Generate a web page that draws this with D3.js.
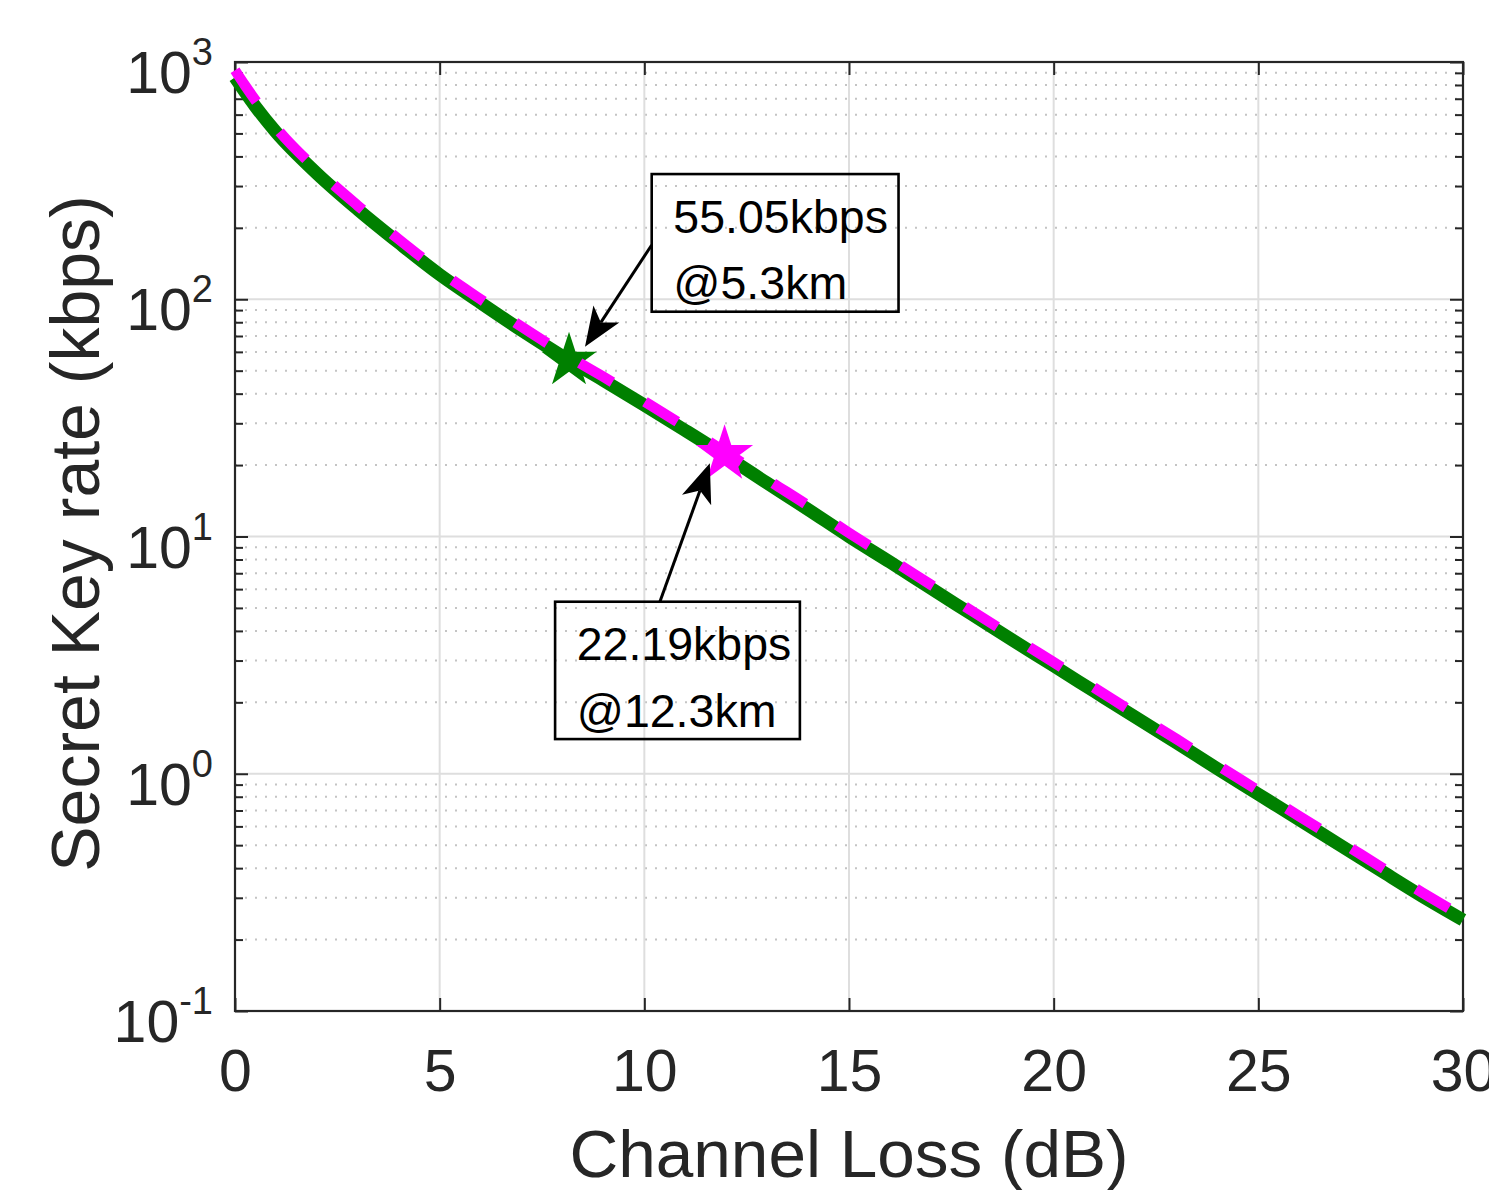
<!DOCTYPE html>
<html>
<head>
<meta charset="utf-8">
<script src="https://cdn.jsdelivr.net/npm/d3@7"></script>
<style>
  html, body { margin: 0; padding: 0; background: #ffffff; }
  svg { display: block; }
  text { font-family: "Liberation Sans", Arial, Helvetica, sans-serif; }
</style>
</head>
<body>
<svg id="chart" width="1489" height="1190"></svg>
<script>
// ---------------- DATA ----------------
const lossDB = [0, 0.25, 0.5, 1, 2, 3, 4, 5, 6, 7, 8, 9, 10, 11, 12, 13, 14, 15,
                16, 17, 18, 19, 20, 21, 22, 23, 24, 25, 26, 27, 28, 29, 30];
const rateGreen = [861, 745, 649, 507, 339, 239, 173, 127, 96.6, 74, 57.5, 45.5, 35.8, 28.0, 21.8, 16.8,
                   13.0, 10.0, 7.8, 6.05, 4.7, 3.65, 2.85, 2.22, 1.73, 1.35, 1.05, 0.82, 0.64, 0.50,
                   0.39, 0.305, 0.242];
const rateMagenta = [923, 794, 689, 530, 352, 248, 179, 131.5, 100, 76.6, 59.5, 47.1, 37.1, 29.0, 22.6, 17.4,
                     13.5, 10.35, 8.07, 6.26, 4.86, 3.78, 2.95, 2.30, 1.79, 1.40, 1.087, 0.849, 0.662, 0.518,
                     0.404, 0.316, 0.250];
const markerLoss = [8.16, 11.96];
const markerRate = [55.05, 22.19];
const xTicks = [0, 5, 10, 15, 20, 25, 30];
const yTicks = [0.1, 1, 10, 100, 1000];
const yTickExp = ["-1", "0", "1", "2", "3"];
const annText = [["55.05kbps", "@5.3km"], ["22.19kbps", "@12.3km"]];
// annotation boxes & arrows in data coordinates
const annBoxX0 = [10.18, 7.82];
const annBoxY0 = [337, 5.31];
const annBoxX1 = [16.21, 13.80];
const annBoxY1 = [88.6, 1.40];
const annTailX = [10.18, 10.38];
const annTailY = [169.3, 5.31];
const annTipX  = [8.55, 11.60];
const annTipY  = [63.1, 20.35];

// ---------------- SETUP ----------------
const svg = d3.select("#chart");
svg.append("rect").attr("width", 1489).attr("height", 1190).attr("fill", "#fff");

const L = 235, R = 1463, T = 62, B = 1011;
const x = d3.scaleLinear().domain([0, 30]).range([L, R]);
const y = d3.scaleLog().domain([0.1, 1000]).range([B, T]);

const axisColor = "#262626";

const yMinor = [];
[0.1, 1, 10, 100].forEach(d => { for (let k = 2; k <= 9; k++) yMinor.push(d * k); });

// ---------------- GRID ----------------
const grid = svg.append("g");
grid.selectAll("line.ymin").data(yMinor).enter().append("line")
  .attr("x1", L).attr("x2", R).attr("y1", d => y(d)).attr("y2", d => y(d))
  .attr("stroke", "#c4c4c4").attr("stroke-width", 2).attr("stroke-dasharray", "2,8");
grid.selectAll("line.ymaj").data(yTicks.slice(1, -1)).enter().append("line")
  .attr("x1", L).attr("x2", R).attr("y1", d => y(d)).attr("y2", d => y(d))
  .attr("stroke", "#dedede").attr("stroke-width", 2);
grid.selectAll("line.xmaj").data(xTicks.slice(1, -1)).enter().append("line")
  .attr("y1", T).attr("y2", B).attr("x1", d => x(d)).attr("x2", d => x(d))
  .attr("stroke", "#dedede").attr("stroke-width", 2);

// ---------------- AXES ----------------
const gx = svg.append("g").attr("transform", `translate(0,${B})`)
  .call(d3.axisBottom(x).tickValues(xTicks).tickSize(-13).tickPadding(22).tickFormat(d3.format("d")));
const gxTop = svg.append("g").attr("transform", `translate(0,${T})`)
  .call(d3.axisTop(x).tickValues(xTicks).tickSize(-13).tickFormat(""));
const gy = svg.append("g").attr("transform", `translate(${L},0)`)
  .call(d3.axisLeft(y).tickValues(yTicks).tickSize(-13).tickFormat(""));
const gyMin = svg.append("g").attr("transform", `translate(${L},0)`)
  .call(d3.axisLeft(y).tickValues(yMinor).tickSize(-8).tickFormat(""));
const gyR = svg.append("g").attr("transform", `translate(${R},0)`)
  .call(d3.axisRight(y).tickValues(yTicks).tickSize(-13).tickFormat(""));
const gyRMin = svg.append("g").attr("transform", `translate(${R},0)`)
  .call(d3.axisRight(y).tickValues(yMinor).tickSize(-8).tickFormat(""));

[gx, gxTop, gy, gyMin, gyR, gyRMin].forEach(g => {
  g.select(".domain").remove();
  g.selectAll(".tick line").attr("stroke", axisColor).attr("stroke-width", 2);
});
gx.selectAll(".tick text").attr("font-size", 59).attr("fill", axisColor)
  .attr("font-family", "Liberation Sans, Arial, sans-serif")
  .attr("dy", null).attr("y", 80);

// box
svg.append("rect").attr("x", L).attr("y", T).attr("width", R - L).attr("height", B - T)
  .attr("fill", "none").attr("stroke", axisColor).attr("stroke-width", 2.2);

// y tick labels with superscripts
const yl = svg.append("g");
yTicks.forEach((v, i) => {
  const t = yl.append("text").attr("x", 213).attr("y", y(v) + 31)
    .attr("text-anchor", "end").attr("fill", axisColor).attr("font-size", 59);
  t.append("tspan").text("10");
  t.append("tspan").attr("dy", -28).attr("font-size", 38).text(yTickExp[i]);
});

// axis labels
svg.append("text").attr("x", (L + R) / 2).attr("y", 1177).attr("text-anchor", "middle")
  .attr("font-size", 67.5).attr("fill", axisColor).text("Channel Loss (dB)");
svg.append("text").attr("transform", `translate(99,${(T + B) / 2 - 3}) rotate(-90)`)
  .attr("text-anchor", "middle").attr("font-size", 68).attr("fill", axisColor)
  .text("Secret Key rate (kbps)");

// ---------------- CURVES ----------------
const line = d3.line().x(d => x(d[0])).y(d => y(d[1])).curve(d3.curveMonotoneX);
const greenPts = lossDB.map((d, i) => [d, rateGreen[i]]);
const magPts = lossDB.map((d, i) => [d, rateMagenta[i]]);

function star(cx, cy, r) {
  const pts = [];
  for (let k = 0; k < 10; k++) {
    const rr = k % 2 === 0 ? r : r * 0.382;
    const a = -Math.PI / 2 + k * Math.PI / 5;
    pts.push([cx + rr * Math.cos(a), cy + rr * Math.sin(a)]);
  }
  return "M" + pts.map(p => p.join(",")).join("L") + "Z";
}

svg.append("path").datum(greenPts).attr("d", line)
  .attr("fill", "none").attr("stroke", "#008000").attr("stroke-width", 13);
svg.append("path").attr("d", star(x(markerLoss[0]), y(markerRate[0]), 29))
  .attr("fill", "#008000");
svg.append("path").datum(magPts).attr("d", line)
  .attr("fill", "none").attr("stroke", "#ff00ff").attr("stroke-width", 10.5)
  .attr("stroke-dasharray", "38,38");
svg.append("path").attr("d", star(x(markerLoss[1]), y(markerRate[1]), 30))
  .attr("fill", "#ff00ff");

// ---------------- ANNOTATIONS ----------------
annText.forEach((lines, i) => {
  const bx0 = x(annBoxX0[i]), by0 = y(annBoxY0[i]);
  const bx1 = x(annBoxX1[i]), by1 = y(annBoxY1[i]);
  svg.append("rect").attr("x", bx0).attr("y", by0).attr("width", bx1 - bx0).attr("height", by1 - by0)
    .attr("fill", "none").attr("stroke", "#000").attr("stroke-width", 2.6);
  lines.forEach((s, j) => {
    svg.append("text").attr("x", bx0 + 21.6).attr("y", by0 + 58.5 + j * 66.3)
      .attr("font-size", 46.5).attr("fill", "#000").text(s);
  });
  const tx = x(annTailX[i]), ty = y(annTailY[i]);
  const px = x(annTipX[i]), py = y(annTipY[i]);
  const dx = px - tx, dy = py - ty, len = Math.hypot(dx, dy);
  const ux = dx / len, uy = dy / len, nx = -uy, ny = ux;
  const HL = 39, HW = 15.5, HN = 29;
  const bx = px - ux * HL, byy = py - uy * HL;
  const nxp = px - ux * HN, nyp = py - uy * HN;
  svg.append("line").attr("x1", tx).attr("y1", ty).attr("x2", nxp).attr("y2", nyp)
    .attr("stroke", "#000").attr("stroke-width", 3);
  svg.append("path")
    .attr("d", `M${px},${py}L${bx + nx * HW},${byy + ny * HW}L${nxp},${nyp}L${bx - nx * HW},${byy - ny * HW}Z`)
    .attr("fill", "#000");
});
</script>
</body>
</html>
